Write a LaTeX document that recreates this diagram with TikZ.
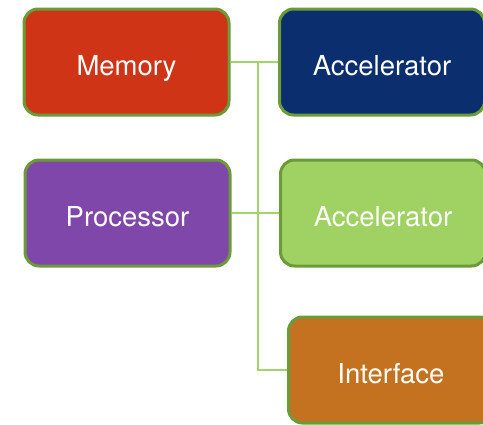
\documentclass[tikz,border=0pt]{standalone}
\usepackage{fontspec}
\setmainfont{TeX Gyre Heros}
\definecolor{memred}{HTML}{CF3416}
\definecolor{accnavy}{HTML}{0B2E6F}
\definecolor{procpurple}{HTML}{7F47AA}
\definecolor{accgreen}{HTML}{9FD262}
\definecolor{ifaceorange}{HTML}{C4721F}
\definecolor{edgegreen}{HTML}{6B9B38}
\definecolor{linkgreen}{HTML}{A3D46C}
\tikzset{
  unitbox/.style={draw=edgegreen, line width=3pt, rounded corners=14pt,
    minimum width=205pt, minimum height=106pt, inner sep=0pt,
    text height=26pt, text depth=0pt,
    text=white, font=\fontsize{27.5}{32}\selectfont},
  link/.style={draw=linkgreen, line width=2pt}
}
\begin{document}
\begin{tikzpicture}[x=1pt,y=-1pt]
\useasboundingbox (0,0) rectangle (483,424);
% functional units
\node[unitbox, fill=memred]      (mem)   at (126.5,62)  {Memory};
\node[unitbox, fill=accnavy]     (acc1)  at (382,62)    {Accelerator};
\node[unitbox, fill=procpurple]  (proc)  at (127.5,213) {Processor};
\node[unitbox, fill=accgreen]    (acc2)  at (383,213)   {Accelerator};
\node[unitbox, fill=ifaceorange] (iface) at (391,370)   {Interface};
% shared bus
\coordinate (bus) at (258,0);
\draw[link] (mem) -- (acc1);
\draw[link] (proc) -- (acc2);
\draw[link] (mem.east -| bus) |- (iface);
\end{tikzpicture}
\end{document}
